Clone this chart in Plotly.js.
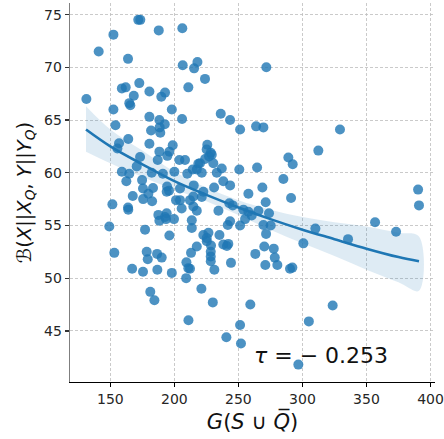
<!DOCTYPE html>
<html>
<head>
<meta charset="utf-8">
<script src="https://cdn.plot.ly/plotly-3.0.1.min.js"></script>
<style>html,body{margin:0;padding:0;background:#fff;}#chart{width:444px;height:439px;}</style>
</head>
<body>
<div id="chart"></div>
<script>
// scatter points: G(S ∪ Q̄) values
const xVals = [
171.8,173.4,152.4,187.8,206.2,140.9,163.8,206.5,215.4,218.0,271.8,223.9,172.6,159.0,162.0,180.5,192.7,189.8,210.9,168.3,
131.3,164.8,165.6,152.4,198.0,180.5,188.3,206.0,192.5,188.5,189.0,181.8,154.0,236.2,243.5,251.3,263.8,269.5,329.3,
164.0,156.8,155.5,180.5,198.7,188.3,196.1,194.5,173.2,187.0,203.9,208.3,159.0,164.8,170.6,182.3,191.0,200.0,210.1,218.7,
162.5,174.8,183.3,175.5,194.3,195.8,194.0,204.4,215.1,167.5,179.7,175.6,182.6,201.3,204.4,212.2,151.6,163.8,164.0,205.7,
187.5,192.7,194.0,199.7,188.3,193.5,149.2,177.1,196.1,
225.7,225.2,228.4,227.1,229.2,224.0,220.0,230.4,217.5,221.4,214.3,233.1,237.0,250.7,264.6,289.0,292.4,312.4,285.1,238.2,
243.5,231.0,222.6,214.8,221.4,268.7,257.8,291.1,271.3,242.9,245.6,214.8,217.5,234.4,253.9,257.8,260.4,255.2,265.6,273.9,
213.6,243.5,241.7,251.3,269.5,275.2,271.6,213.6,222.6,225.3,226.6,228.6,235.2,241.0,
300.7,270.2,277.6,263.2,278.4,271.0,280.4,290.3,292.1,244.2,231.2,228.4,228.4,228.4,213.0,217.5,238.2,242.1,225.3,212.2,
259.3,251.3,252.0,240.6,230.0,221.1,211.0,296.8,305.0,323.6,153.1,178.4,179.2,186.5,190.1,167.0,175.5,186.7,198.0,209.4,
210.9,209.2,181.2,184.4,
390.3,391.0,356.7,373.1,310.1,335.6
];
// scatter points: B(X||X_Q, Y||Y_Q) values
const yVals = [
74.5,74.5,73.1,73.5,73.7,71.5,70.8,70.2,69.9,70.5,70.0,68.9,68.5,68.0,68.1,67.7,67.6,67.2,68.1,67.3,
67.0,66.6,66.4,66.0,66.0,65.3,65.0,65.1,64.6,64.3,63.8,64.0,64.5,65.6,65.0,64.1,64.4,64.3,64.1,
63.2,62.8,62.3,62.75,62.6,62.0,62.0,61.6,61.5,61.2,61.2,61.2,60.1,59.9,60.6,60.0,59.9,60.1,59.9,60.85,
59.2,59.3,58.55,58.5,58.7,58.3,58.2,58.5,58.8,57.8,58.0,57.5,57.3,57.4,57.4,57.4,57.0,56.7,56.5,56.6,
56.0,55.8,56.15,55.6,55.45,55.6,54.9,54.6,54.05,
62.65,62.2,61.9,61.55,61.7,61.3,60.9,60.9,60.3,60.0,60.3,60.0,60.4,60.3,60.5,61.45,60.8,62.1,59.4,59.2,
58.8,58.6,58.2,57.75,57.7,58.6,58.0,57.6,57.2,57.1,56.9,56.8,56.4,56.4,56.5,56.3,55.95,55.6,56.4,56.15,
55.5,55.4,55.05,55.0,55.05,55.0,54.2,54.75,54.1,53.8,54.3,53.1,54.1,53.05,
53.3,53.0,52.8,52.3,51.95,51.25,51.25,50.9,51.0,51.45,50.8,52.5,52.05,51.6,52.4,53.0,53.2,53.25,53.5,50.9,
47.5,45.55,43.8,44.4,47.7,49.0,46.0,41.8,45.9,47.4,52.4,52.5,51.8,52.3,51.95,50.9,50.6,50.8,50.5,51.5,
50.95,50.0,48.7,47.9,
58.4,56.9,55.3,54.4,54.7,53.7
];
// fitted line and confidence band
const fitX     = [131, 150, 175, 200, 225, 250, 275, 300, 325, 350, 375, 391];
const fitY     = [64.1, 62.5, 60.8, 59.2, 57.9, 56.7, 55.6, 54.6, 53.7, 52.8, 52.0, 51.6];
const fitUpper = [66.3, 64.1, 62.1, 60.1, 58.6, 57.4, 56.5, 55.8, 55.3, 54.9, 54.3, 53.95];
const fitLower = [62.0, 60.9, 59.6, 58.4, 57.3, 56.0, 54.6, 53.3, 52.1, 50.8, 49.6, 48.8];
const xTicks = [150, 200, 250, 300, 350, 400];
const yTicks = [45, 50, 55, 60, 65, 70, 75];
const tauLabel = '<i>τ</i> = − 0.253';

const blue = '#1f77b4';
const traces = [
  {x: xVals, y: yVals, type: 'scatter', mode: 'markers',
   marker: {color: blue, size: 10, opacity: 0.8, line: {width: 0}}, hoverinfo: 'skip'},
  {x: fitX.concat(fitX.slice().reverse()), y: fitUpper.concat(fitLower.slice().reverse()),
   type: 'scatter', mode: 'lines', fill: 'toself', fillcolor: 'rgba(31,119,180,0.15)',
   line: {width: 0, shape: 'spline'}, hoverinfo: 'skip'},
  {x: fitX, y: fitY, type: 'scatter', mode: 'lines',
   line: {color: blue, width: 2.6, shape: 'spline'}, hoverinfo: 'skip'}
];
const tickFont = {family: 'DejaVu Sans', size: 14, color: '#262626'};
const layout = {
  width: 444, height: 439,
  margin: {l: 70, r: 9, t: 3, b: 57},
  paper_bgcolor: '#fff', plot_bgcolor: '#fff',
  showlegend: false,
  font: {family: 'DejaVu Sans'},
  xaxis: {
    range: [118.5, 403.5], tickvals: xTicks, ticktext: xTicks.map(String),
    showgrid: true, gridcolor: '#bdbdbd', griddash: '3px,2px', gridwidth: 0.8,
    zeroline: false, showline: true, linecolor: '#000', linewidth: 1.3,
    ticks: 'outside', ticklen: 4, tickcolor: '#000', tickwidth: 1.3,
    tickfont: tickFont,
    title: {text: '<i>G</i>(<i>S</i> ∪ <i>Q̅</i>)', font: {family: 'DejaVu Sans', size: 21, color: '#111'}, standoff: 8}
  },
  yaxis: {
    range: [40.15, 76.1], tickvals: yTicks, ticktext: yTicks.map(String),
    showgrid: true, gridcolor: '#bdbdbd', griddash: '3px,2px', gridwidth: 0.8,
    zeroline: false, showline: true, linecolor: '#7f7f7f', linewidth: 1.3,
    ticks: 'outside', ticklen: 4, tickcolor: '#333', tickwidth: 1.3,
    tickfont: tickFont,
    title: {text: 'ℬ(<i>X</i>||<i>X</i><sub><i>Q</i></sub>, <i>Y</i>||<i>Y</i><sub><i>Q</i></sub>)', font: {family: 'DejaVu Sans', size: 19.5, color: '#111'}, standoff: 7}
  },
  annotations: [{
    text: tauLabel, xref: 'paper', yref: 'paper', x: 0.688, y: 0.069,
    xanchor: 'center', yanchor: 'middle', showarrow: false,
    font: {family: 'DejaVu Sans', size: 22, color: '#111'}
  }]
};
Plotly.newPlot('chart', traces, layout, {displayModeBar: false, staticPlot: true});
</script>
</body>
</html>
